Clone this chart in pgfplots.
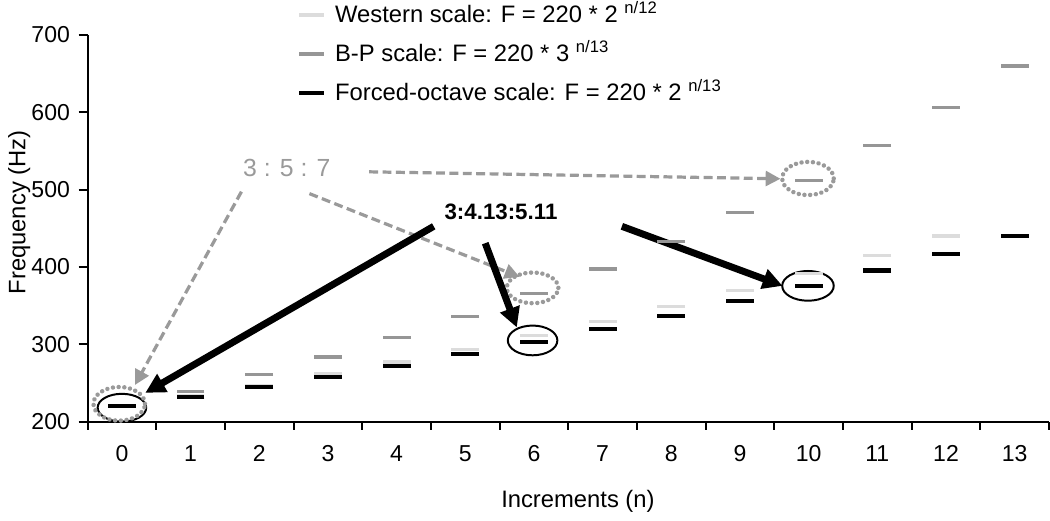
\documentclass[border=0pt]{standalone}
\usepackage{fontspec}
\setmainfont{Liberation Sans}
\usepackage{pgfplots}
\pgfplotsset{compat=1.18}
\usetikzlibrary{arrows.meta}
\definecolor{westgray}{HTML}{DCDCDC}
\definecolor{bpgray}{HTML}{969696}
\definecolor{annogray}{HTML}{9A9A9A}

\begin{document}
\begin{tikzpicture}
\begin{axis}[
    name=ax,
    scale only axis,
    width=388pt, height=156pt,
    xmin=-0.5, xmax=13.5,
    ymin=200, ymax=700,
    axis lines*=left,
    axis line style={line width=0.8pt},
    xtick={0,...,13},
    minor xtick={-0.5,0.5,...,13.5},
    major x tick style={draw=none},
    ytick={200,300,...,700},
    tick align=outside,
    major tick length=3.6pt,
    minor tick length=3.2pt,
    tick style={line width=0.8pt, black},
    /pgf/number format/assume math mode=true,
    tick label style={font=\fontsize{9.3}{11}\selectfont},
    xticklabel style={yshift=-2.5pt},
    xlabel={Increments (n)},
    ylabel={Frequency (Hz)},
    label style={font=\fontsize{9.6}{11}\selectfont},
    every axis x label/.append style={at={(axis description cs:0.51,-0.205)}, anchor=center},
    every axis y label/.append style={at={(axis description cs:-0.071,0.541)}, anchor=center},
    clip=false,
    legend style={at={(rel axis cs:0.2175,1.092)}, anchor=north west, draw=none, fill=none,
        inner sep=0pt, font=\fontsize{9.6}{11}\selectfont, row sep=3.8pt,
        nodes={inner ysep=1pt, inner xsep=3.5pt, text height=8pt, text depth=2pt}},
    legend cell align=left,
]
\addplot[only marks, mark=-, mark size=5.6pt, mark options={line width=1.3pt, draw=westgray},
    legend image code/.code={\draw[line width=1.5pt, westgray] (0pt,0pt) -- (10pt,0pt);}]
    coordinates {(0,220) (1,233.1) (2,246.9) (3,261.6) (4,277.2) (5,293.7) (6,311.1)
    (7,329.6) (8,349.2) (9,370.0) (10,392.0) (11,415.3) (12,440.0)};
\addlegendentry{Western scale: F = 220 * 2 \textsuperscript{n/12}}
\addplot[only marks, mark=-, mark size=5.6pt, mark options={line width=1.3pt, draw=bpgray},
    legend image code/.code={\draw[line width=1.5pt, bpgray] (0pt,0pt) -- (10pt,0pt);}]
    coordinates {(0,220) (1,239.4) (2,260.5) (3,283.5) (4,308.5) (5,335.7) (6,365.3)
    (7,397.5) (8,432.6) (9,470.7) (10,512.2) (11,557.4) (12,606.5) (13,660.0)};
\addlegendentry{B-P scale: F = 220 * 3 \textsuperscript{n/13}}
\addplot[only marks, mark=-, mark size=5.6pt, mark options={line width=1.7pt, draw=black},
    legend image code/.code={\draw[line width=1.8pt, black] (0pt,0pt) -- (10pt,0pt);}]
    coordinates {(0,220) (1,232.0) (2,244.8) (3,258.2) (4,272.3) (5,287.2) (6,302.9)
    (7,319.5) (8,337.0) (9,355.5) (10,375.0) (11,395.5) (12,417.2) (13,440.0)};
\addlegendentry{Forced-octave scale: F = 220 * 2 \textsuperscript{n/13}}

% circles
\draw[black, line width=0.8pt] (axis cs:0,218) ellipse [x radius=9.8pt, y radius=5.6pt];
\draw[black, line width=0.8pt] (axis cs:5.98,305) ellipse [x radius=10pt, y radius=6pt];
\draw[black, line width=0.8pt] (axis cs:9.99,375.6) ellipse [x radius=10.4pt, y radius=6pt];
\begin{scope}[annogray, line width=1.8pt, line cap=round, dash pattern=on 0.01pt off 2.3pt]
\draw (axis cs:-0.04,223) ellipse [x radius=10.4pt, y radius=6.8pt];
\draw (axis cs:5.98,373) ellipse [x radius=10.4pt, y radius=6.2pt];
\draw (axis cs:9.99,514.5) ellipse [x radius=10.4pt, y radius=6.7pt];
\end{scope}

% 3:5:7 arrows
\begin{scope}[annogray, line width=1.3pt, dash pattern=on 3.6pt off 1.8pt,
    -{Triangle[length=6pt, width=6pt]}]
\draw (axis cs:1.74,497.4) -- (axis cs:0.19,247.4);
\draw (axis cs:2.73,494.9) -- (axis cs:5.79,387.2);
\draw (axis cs:3.60,523.1) -- (axis cs:9.59,514.1);
\end{scope}
\node[annogray, font=\fontsize{10}{12}\selectfont] at (axis cs:2.40,528.2) {3 : 5 : 7};

% 3:4.13:5.11 arrows
\begin{scope}[black, line width=2.8pt, -{Triangle[length=8pt, width=8pt]}]
\draw (axis cs:4.54,452.6) -- (axis cs:0.34,237.2);
\draw (axis cs:5.29,430.8) -- (axis cs:5.75,321.8);
\draw (axis cs:7.28,452.6) -- (axis cs:9.62,375.6);
\end{scope}
\node[font=\fontsize{9}{11}\selectfont\bfseries] at (axis cs:5.52,471.8) {3:4.13:5.11};
\end{axis}
\path[use as bounding box] ([xshift=-31.6pt,yshift=-35.2pt]ax.south west)
    rectangle ([xshift=0.4pt,yshift=10.8pt]ax.north east);
\end{tikzpicture}
\end{document}
